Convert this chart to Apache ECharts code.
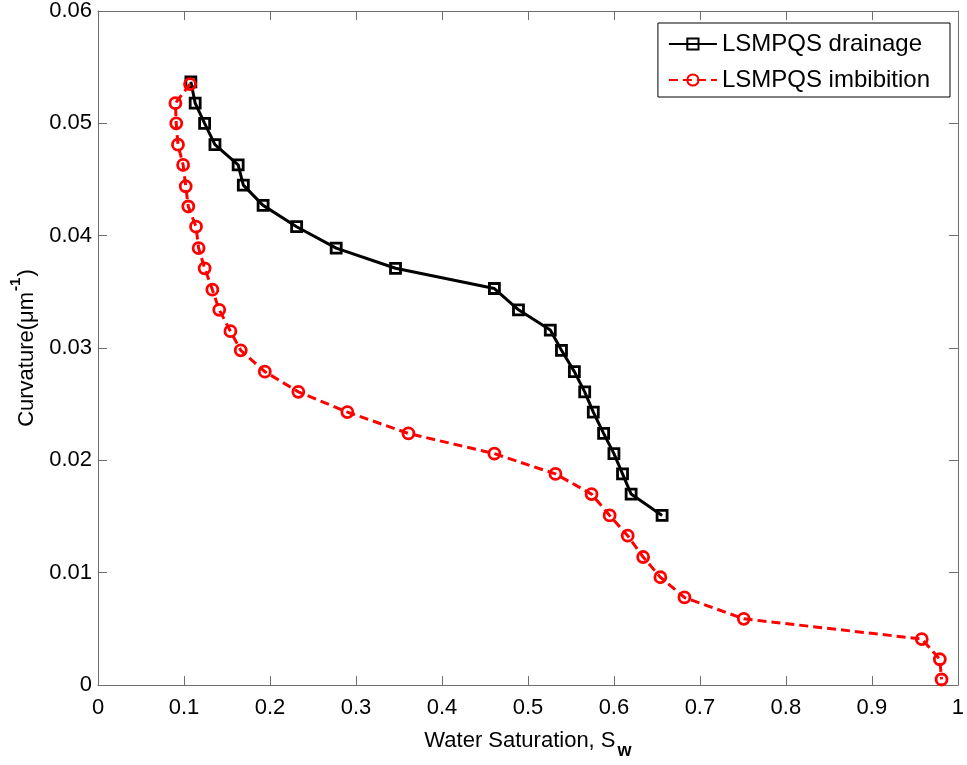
<!DOCTYPE html>
<html>
<head>
<meta charset="utf-8">
<script src="https://cdn.jsdelivr.net/npm/echarts@6/dist/echarts.min.js"></script>
<style>html,body{margin:0;padding:0;background:#fff;}#c{width:967px;height:765px;}</style>
</head>
<body>
<div id="c"></div>
<script>
const xTicks = [0, 0.1, 0.2, 0.3, 0.4, 0.5, 0.6, 0.7, 0.8, 0.9, 1];
const yTicks = [0, 0.01, 0.02, 0.03, 0.04, 0.05, 0.06];
const seriesNames = ['LSMPQS drainage', 'LSMPQS imbibition'];
const drainX = [0.108,0.113,0.124,0.136,0.163,0.169,0.192,0.231,0.277,0.346,0.461,0.489,0.526,0.539,0.554,0.566,0.576,0.588,0.600,0.610,0.620,0.656];
const drainY = [0.0537,0.0518,0.0500,0.0481,0.0463,0.0445,0.0427,0.0408,0.0389,0.0371,0.0353,0.0334,0.0316,0.0298,0.0279,0.0261,0.0243,0.0224,0.0206,0.0188,0.0170,0.0151];
const imbX = [0.107,0.090,0.091,0.093,0.099,0.102,0.105,0.114,0.117,0.124,0.133,0.141,0.154,0.166,0.194,0.233,0.290,0.361,0.461,0.532,0.574,0.595,0.616,0.634,0.654,0.682,0.751,0.958,0.979,0.981];
const imbY = [0.0535,0.0518,0.0500,0.0481,0.0463,0.0444,0.0426,0.0408,0.0389,0.0371,0.0352,0.0334,0.0315,0.0298,0.0279,0.0261,0.0243,0.0224,0.0206,0.0188,0.0170,0.0151,0.0133,0.0114,0.0096,0.0078,0.0059,0.0041,0.0023,0.0005];

const FONT = '"Liberation Sans", Arial, Helvetica, sans-serif';
const axisColor = '#6e6e6e';
const fmt = v => String(Math.round(v * 1000) / 1000);

const chart = echarts.init(document.getElementById('c'), null, {renderer: 'canvas'});
const baseAxis = {
  axisLine: {show: true, onZero: false, lineStyle: {color: axisColor, width: 1}},
  axisTick: {show: true, inside: true, length: 9, lineStyle: {color: axisColor, width: 1}},
  splitLine: {show: false}
};
chart.setOption({
  animation: false,
  backgroundColor: '#fff',
  grid: {left: 98, right: 9, top: 9, bottom: 76, containLabel: false},
  legend: {
    orient: 'vertical',
    right: 17,
    top: 23,
    data: seriesNames,
    itemWidth: 48,
    itemHeight: 14,
    itemGap: 10,
    padding: [8, 20, 4, 10],
    borderColor: '#000',
    borderWidth: 1,
    backgroundColor: '#fff',
    textStyle: {fontFamily: FONT, fontSize: 24, color: '#000', lineHeight: 26}
  },
  xAxis: [
    Object.assign({}, baseAxis, {
      type: 'value', min: xTicks[0], max: xTicks[xTicks.length - 1], interval: 0.1,
      position: 'bottom',
      axisLabel: {fontFamily: FONT, fontSize: 22, color: '#000', margin: 12, formatter: fmt},
      name: '{n|Water Saturation, S}{sub|w}',
      nameLocation: 'middle',
      nameGap: 44,
      nameTextStyle: {
        fontFamily: FONT, fontSize: 22, color: '#000',
        rich: {
          n: {fontFamily: FONT, fontSize: 22, color: '#000', lineHeight: 30, verticalAlign: 'top'},
          sub: {fontFamily: FONT, fontSize: 18, fontWeight: 'bold', color: '#000', lineHeight: 18, verticalAlign: 'bottom', padding: [18, 0, 0, 2]}
        }
      }
    }),
    Object.assign({}, baseAxis, {
      type: 'value', min: xTicks[0], max: xTicks[xTicks.length - 1], interval: 0.1,
      position: 'top', axisLabel: {show: false}
    })
  ],
  yAxis: [
    Object.assign({}, baseAxis, {
      type: 'value', min: yTicks[0], max: yTicks[yTicks.length - 1], interval: 0.01,
      position: 'left',
      axisLabel: {fontFamily: FONT, fontSize: 22, color: '#000', margin: 6, formatter: fmt},
      name: '{n|Curvature(μm}{sup|-1}{n|)}',
      nameLocation: 'middle',
      nameGap: 58,
      nameRotate: 90,
      nameTextStyle: {
        fontFamily: FONT, fontSize: 22, color: '#000',
        rich: {
          n: {fontFamily: FONT, fontSize: 22, color: '#000', lineHeight: 30, verticalAlign: 'bottom'},
          sup: {fontFamily: FONT, fontSize: 15, fontWeight: 'bold', color: '#000', lineHeight: 15, verticalAlign: 'top', padding: [0, 1, 0, 1]}
        }
      }
    }),
    Object.assign({}, baseAxis, {
      type: 'value', min: yTicks[0], max: yTicks[yTicks.length - 1], interval: 0.01,
      position: 'right', axisLabel: {show: false}
    })
  ],
  series: [
    {
      name: seriesNames[0],
      type: 'line',
      xAxisIndex: 0, yAxisIndex: 0,
      data: drainX.map((x, i) => [x, drainY[i]]),
      symbol: 'rect',
      symbolSize: 10,
      showAllSymbol: true,
      lineStyle: {color: '#000', width: 3},
      itemStyle: {color: 'rgba(255,255,255,0)', borderColor: '#000', borderWidth: 2.8},
      z: 2
    },
    {
      name: seriesNames[1],
      type: 'line',
      xAxisIndex: 0, yAxisIndex: 0,
      data: imbX.map((x, i) => [x, imbY[i]]),
      symbol: 'circle',
      symbolSize: 11,
      showAllSymbol: true,
      lineStyle: {color: '#ff0000', width: 3, type: [9, 5]},
      itemStyle: {color: 'rgba(255,255,255,0)', borderColor: '#ff0000', borderWidth: 2.8},
      z: 3
    }
  ]
});
</script>
</body>
</html>
